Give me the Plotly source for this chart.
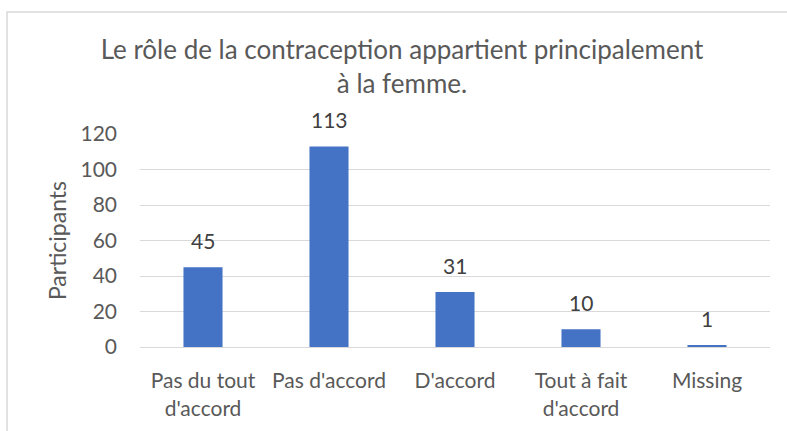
import plotly.graph_objects as go

categories = ["Pas du tout<br>d'accord", "Pas d'accord", "D'accord", "Tout à fait<br>d'accord", "Missing"]
values = [45, 113, 31, 10, 1]
y_ticks = [0, 20, 40, 60, 80, 100, 120]

W, H = 787, 431
L, R, T, B = 140, 17, 134, 84
pw = W - L - R
ph = H - T - B

def px(x):
    return (x - L) / pw

def py(y):
    return (H - B - y) / ph

font_family = "Lato, 'Open Sans', sans-serif"
txt = "#595959"

fig = go.Figure(go.Bar(
    x=categories, y=values,
    marker=dict(color="#4472C4", line=dict(width=0)),
    width=0.31,
    hoverinfo="x+y",
))

for c, v in zip(categories, values):
    fig.add_annotation(
        x=c, y=v, xref="x", yref="y", text=str(v), showarrow=False,
        yanchor="bottom", yshift=12,
        font=dict(size=21, color="#404040", family=font_family),
    )

fig.update_layout(
    width=W, height=H,
    margin=dict(l=L, r=R, t=T, b=B),
    paper_bgcolor="white", plot_bgcolor="white",
    showlegend=False,
    font=dict(family=font_family, color=txt),
    title=dict(
        text="Le rôle de la contraception appartient principalement<br>à la femme.",
        x=px(402), xanchor="center", xref="paper",
        y=1 - 59 / H, yanchor="top",
        font=dict(size=26, color=txt, family=font_family),
    ),
    xaxis=dict(
        showgrid=False, showline=True, linecolor="#D9D9D9", linewidth=1,
        ticks="", tickfont=dict(size=21, color=txt), ticklabelstandoff=15,
    ),
    yaxis=dict(
        range=[0, 120], tickvals=y_ticks, showgrid=True, gridcolor="#D9D9D9",
        gridwidth=1, zeroline=False, showline=False, ticks="",
        tickfont=dict(size=21, color=txt), ticklabelstandoff=22,
        title=dict(text="Participants", font=dict(size=23, color=txt), standoff=7),
    ),
    shapes=[dict(
        type="rect", xref="paper", yref="paper",
        x0=px(7), x1=px(800), y0=py(440), y1=py(12),
        line=dict(color="#D9D9D9", width=1.5), fillcolor="rgba(0,0,0,0)", layer="above",
    )],
)

fig.write_html("out.html", config={"displayModeBar": False},
               post_script="document.body.style.margin='0';document.body.style.padding='0';")
